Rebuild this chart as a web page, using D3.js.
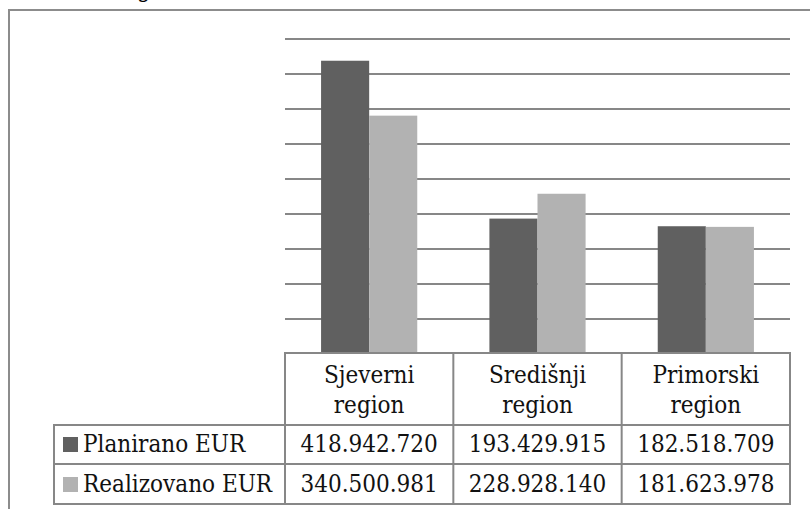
<!DOCTYPE html>
<html><head><meta charset="utf-8">
<script src="https://cdn.jsdelivr.net/npm/d3@7"></script>
<style>html,body{margin:0;padding:0;background:#fff;}svg{display:block;}
.t{font-family:"DejaVu Serif Condensed","DejaVu Serif","Noto Serif",serif;font-stretch:condensed;}</style>
</head><body>
<svg id="c" width="810" height="509"></svg>
<script>
const categories = [["Sjeverni","region"],["Središnji","region"],["Primorski","region"]];
const seriesNames = ["Planirano EUR","Realizovano EUR"];
const planirano = [418942720, 193429915, 182518709];
const realizovano = [340500981, 228928140, 181623978];
const planiranoLabels = ["418.942.720","193.429.915","182.518.709"];
const realizovanoLabels = ["340.500.981","228.928.140","181.623.978"];
const yTicks = [0,50e6,100e6,150e6,200e6,250e6,300e6,350e6,400e6,450e6];

const colors = ["#606060","#b2b2b2"];
const gridColor = "#878787";
const fs = 24;

const svg = d3.select("#c");

// outer frame
svg.append("path").attr("d","M9,509 V10 H812").attr("fill","none").attr("stroke","#8c8c8c").attr("stroke-width",2);
// cut-off text from page above
svg.append("text").attr("class","t").attr("x",137).attr("y",-3).attr("font-size",fs).attr("fill","#000").text("g");

const plotL = 285, plotR = 790, plotTop = 39, base = 354;
const x0 = d3.scaleBand().domain(d3.range(categories.length)).range([plotL, plotR]).padding(0);
const x1 = d3.scaleBand().domain([0,1]).range([0, x0.bandwidth()]).paddingInner(0).paddingOuter(0.75);
const y = d3.scaleLinear().domain([0, 450e6]).range([base, plotTop]);

// gridlines
svg.append("g").selectAll("line").data(yTicks.filter(t=>t>0)).join("line")
  .attr("x1", plotL).attr("x2", plotR)
  .attr("y1", d=>Math.round(y(d))).attr("y2", d=>Math.round(y(d)))
  .attr("stroke", gridColor).attr("stroke-width", 2);

// bars
const series = [planirano, realizovano];
const g = svg.append("g");
categories.forEach((c,i)=>{
  series.forEach((s,k)=>{
    g.append("rect")
      .attr("x", x0(i)+x1(k)).attr("width", x1.bandwidth())
      .attr("y", y(s[i])).attr("height", base - y(s[i]))
      .attr("fill", colors[k]);
  });
});

// data table
const legL = 54;
const rowY = [353, 425, 464, 504];
const tb = svg.append("g").attr("stroke", gridColor).attr("stroke-width", 2).attr("fill","none");
tb.append("path").attr("d", `M${plotL},${rowY[1]} V${rowY[0]} H${plotR} V${rowY[3]} H${legL} V${rowY[1]} H${plotR} M${legL},${rowY[2]} H${plotR}`);
categories.forEach((c,i)=>{
  if (i>0) tb.append("line").attr("x1", x0(i)).attr("x2", x0(i)).attr("y1", rowY[0]).attr("y2", rowY[3]);
});
tb.append("line").attr("x1", plotL).attr("x2", plotL).attr("y1", rowY[0]).attr("y2", rowY[3]);

const txt = svg.append("g").attr("class","t").attr("font-size", fs).attr("fill","#111");
categories.forEach((c,i)=>{
  const cx = x0(i) + x0.bandwidth()/2;
  txt.append("text").attr("x", cx).attr("y", 383).attr("text-anchor","middle").text(c[0]);
  txt.append("text").attr("x", cx).attr("y", 413).attr("text-anchor","middle").text(c[1]);
  txt.append("text").attr("x", cx).attr("y", 452).attr("text-anchor","middle").text(planiranoLabels[i]);
  txt.append("text").attr("x", cx).attr("y", 492).attr("text-anchor","middle").text(realizovanoLabels[i]);
});
const labY = [452, 492];
seriesNames.forEach((n,k)=>{
  svg.append("rect").attr("x", 63).attr("y", labY[k]-15).attr("width", 15).attr("height", 15).attr("fill", colors[k]);
  txt.append("text").attr("x", 83).attr("y", labY[k]).text(n);
});
</script>
</body></html>
